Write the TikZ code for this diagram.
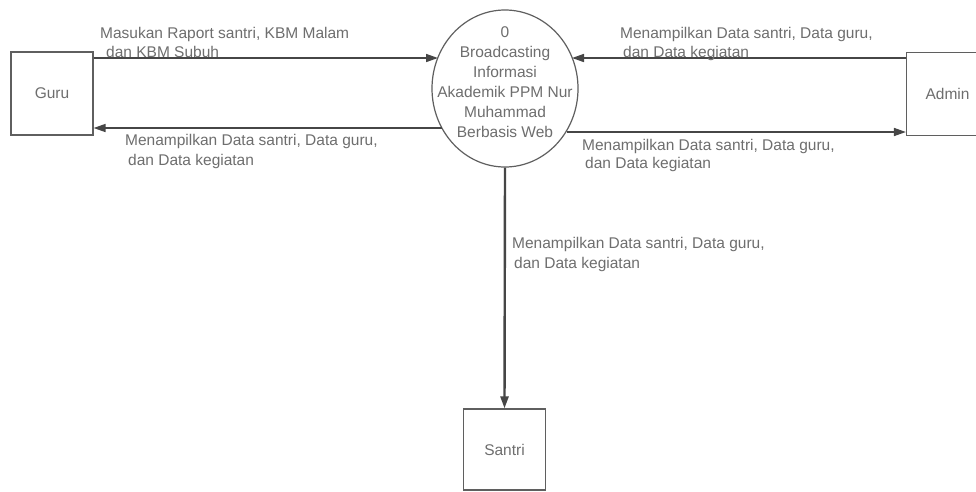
\documentclass[tikz,border=0pt]{standalone}
\usepackage{fontspec}
\setmainfont{Liberation Sans}
\usetikzlibrary{arrows.meta,shapes.geometric,calc}
\definecolor{linec}{RGB}{95,95,95}
\definecolor{flowc}{RGB}{70,70,70}
\definecolor{txtc}{RGB}{110,110,110}
\newcommand\dfdfont{\fontsize{15.5}{20}\selectfont}
\begin{document}
\begin{tikzpicture}[x=1pt,y=-1pt,
  ent/.style={draw=linec,line width=1.2pt,minimum width=82pt,minimum height=83pt,inner sep=0pt,font=\dfdfont,text=txtc},
  procshape/.style={ellipse,draw=linec,line width=1.2pt,minimum width=146pt,minimum height=157pt,inner sep=0pt},
  flow/.style={draw=flowc,line width=1.6pt,-{Triangle[length=12pt,width=8pt]}},
  lbl/.style={font=\dfdfont,text=txtc,inner sep=0pt,anchor=base west},
  ptext/.style={font=\dfdfont,text=txtc,align=center,inner sep=0pt}]
\useasboundingbox[fill=white] (0,0) rectangle (976,491);
% entities
\node[ent] (guru) at (52,93.5) {Guru};
\node[ent] (admin) at (947.5,94) {Admin};
\node[ent,minimum height=81pt] (santri) at (504.5,449.5) {Santri};
% process
\node[procshape] (proc) at (505,88.5) {};
\node[ptext] (proctext) at (505,82) {0\\Broadcasting\\Informasi\\Akademik PPM Nur\\Muhammad\\Berbasis Web};
% connection points
\coordinate (g1) at (guru.east |- 0,58);
\coordinate (g2) at (guru.east |- 0,128);
\coordinate (a1) at (admin.west |- 0,58);
\coordinate (a2) at (admin.west |- 0,132);
\coordinate (p1) at ($(proc.center)+(-67,-30.5)$);
\coordinate (p2) at ($(proc.center)+(-63.5,39.5)$);
\coordinate (p3) at ($(proc.center)+(67,-30.5)$);
\coordinate (p4) at ($(proc.center)+(62,43.5)$);
% flows
\draw[flow] (g1) -- (p1);
\draw[flow] (p2) -- (g2);
\draw[flow] (a1) -- (p3);
\draw[flow] (p4) -- (a2);
\draw[flow,line width=2.4pt] (proc.south) -- (santri.north);
% labels
\node[lbl] (l1a) at (100,38) {Masukan Raport santri, KBM Malam};
\node[lbl] (l1b) at (106,57) {dan KBM Subuh};
\node[lbl] (l2a) at (125,145) {Menampilkan Data santri, Data guru,};
\node[lbl] (l2b) at (128,165) {dan Data kegiatan};
\node[lbl] (l3a) at (620,38) {Menampilkan Data santri, Data guru,};
\node[lbl] (l3b) at (623,57) {dan Data kegiatan};
\node[lbl] (l4a) at (582,150) {Menampilkan Data santri, Data guru,};
\node[lbl] (l4b) at (585,168) {dan Data kegiatan};
\node[lbl] (l5a) at (512,248) {Menampilkan Data santri, Data guru,};
\node[lbl] (l5b) at (514,268) {dan Data kegiatan};
\end{tikzpicture}
\end{document}
